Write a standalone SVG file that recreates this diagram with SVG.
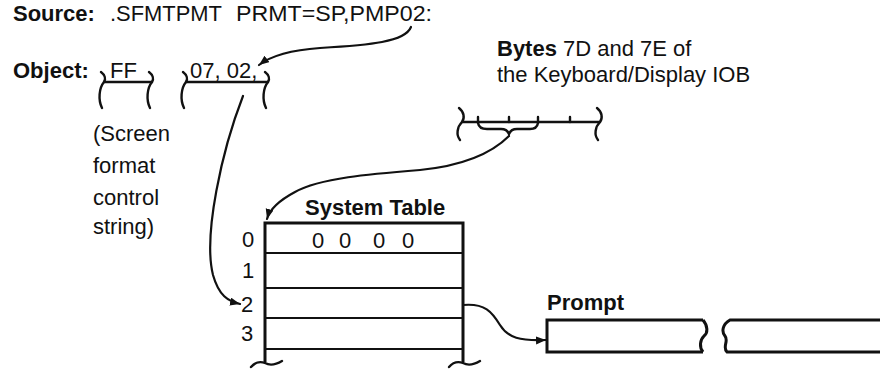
<svg xmlns="http://www.w3.org/2000/svg" width="880" height="369" viewBox="0 0 880 369">
<style>
text{font-family:"Liberation Sans",Arial,sans-serif;font-size:22px;fill:#111}
.b{font-weight:bold}
.ln{fill:none;stroke:#111;stroke-width:2.2;stroke-linecap:round;stroke-linejoin:round}
.br{fill:none;stroke:#111;stroke-width:2.4;stroke-linecap:round}
.box{fill:none;stroke:#111;stroke-width:3}
.row{stroke:#111;stroke-width:2.2}
</style>
<defs>
<marker id="ah" markerWidth="12" markerHeight="10" refX="10" refY="4" orient="auto" markerUnits="userSpaceOnUse">
<path d="M0,0 L10,4 L0,8 z" fill="#111"/>
</marker>
<path id="objBrace" class="br" d="M-3,-10 C1,-7 2,-3 0,0 C-5,6 -6,18 -2,26"/>
<path id="byteBrace" class="br" d="M-3,-14 C2,-10 3,-4 0,0 C-5,5 -6,13 -2,18"/>
</defs>

<g id="source">
<text class="b" x="13" y="21">Source:</text>
<text x="110" y="21" textLength="112" lengthAdjust="spacingAndGlyphs">.SFMTPMT</text>
<text x="236" y="21" textLength="196" lengthAdjust="spacingAndGlyphs">PRMT=SP,PMP02:</text>
</g>

<g id="object">
<text class="b" x="13" y="78">Object:</text>
<use href="#objBrace" x="104" y="82"/>
<text x="110" y="78">FF</text>
<line class="br" x1="104" y1="82" x2="152" y2="82"/>
<use href="#objBrace" x="152" y="82"/>
<use href="#objBrace" x="186" y="82"/>
<text x="190" y="78">07, 02,</text>
<line class="br" x1="186" y1="82" x2="268" y2="82"/>
<use href="#objBrace" x="268" y="82"/>
</g>

<g id="note">
<text x="93" y="141">(Screen</text>
<text x="93" y="173">format</text>
<text x="93" y="205">control</text>
<text x="93" y="234">string)</text>
</g>

<g id="bytes">
<text x="497" y="56"><tspan class="b">Bytes</tspan> 7D and 7E of</text>
<text x="497" y="82">the Keyboard/Display IOB</text>
<use href="#byteBrace" x="462" y="122"/>
<line class="br" x1="462" y1="122" x2="600" y2="122"/>
<use href="#byteBrace" x="600" y="122"/>
<path class="br" d="M478,122 V117 M509,122 V117 M538,122 V117 M570,122 V117"/>
<path class="br" d="M478,123 Q479,129 487,129 L501,129 Q507,129 509,134 Q511,129 517,129 L530,129 Q537,129 538,123"/>
</g>

<g id="systemTable">
<text class="b" x="305" y="215">System Table</text>
<path class="box" d="M265,362 V223 H463 V362"/>
<line class="row" x1="265" y1="253" x2="463" y2="253"/>
<line class="row" x1="265" y1="288" x2="463" y2="288"/>
<line class="row" x1="265" y1="318" x2="463" y2="318"/>
<line class="row" x1="265" y1="349" x2="463" y2="349"/>
<path class="br" d="M251,367 Q257,360 265,363 Q272,367 282,361"/>
<path class="br" d="M449,367 Q455,360 463,363 Q470,367 480,361"/>
<text x="312" y="248">0</text>
<text x="339" y="248">0</text>
<text x="373" y="248">0</text>
<text x="402" y="248">0</text>
<text x="242" y="247">0</text>
<text x="242" y="278">1</text>
<text x="241" y="312">2</text>
<text x="241" y="341">3</text>
</g>

<g id="prompt">
<text class="b" x="547" y="310">Prompt</text>
<path class="box" d="M703,320 H547 V352 H703"/>
<path class="box" d="M703,320 C708,326 708,333 704,336 C700,340 699,347 703,352"/>
<path class="box" d="M880,320 H730 C723,324 721,331 725,336 C729,341 722,347 727,352 H880"/>
</g>

<g id="connectors">
<path class="ln" marker-end="url(#ah)" d="M411,27 C405,42 370,45 320,48 C292,50 272,55 259,65"/>
<path class="ln" marker-end="url(#ah)" d="M243,96 C222,150 203,235 213,275 C219,296 228,301 240,304"/>
<path class="ln" marker-end="url(#ah)" d="M509,136 C490,155 460,166 420,170 C370,174 320,178 295,192 C280,200 270,208 267,219"/>
<path class="ln" marker-end="url(#ah)" d="M463,305 C485,303 492,312 500,325 C508,338 520,341 546,340"/>
</g>
</svg>
